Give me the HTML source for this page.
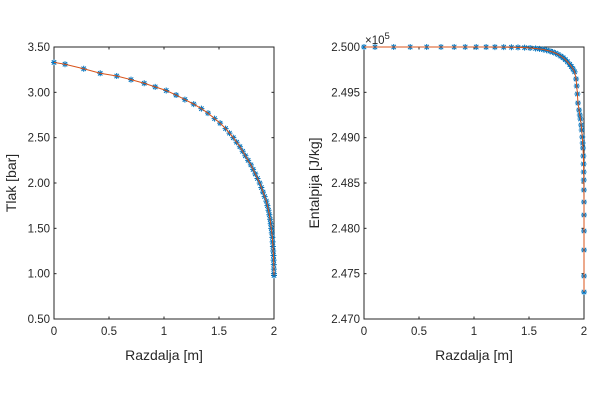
<!DOCTYPE html>
<html><head><meta charset="utf-8"><style>
body{margin:0;background:#fff;width:600px;height:400px;overflow:hidden}
text{font-family:"Liberation Sans",sans-serif;fill:#262626}
</style></head><body>
<svg id="s" width="600" height="400" xmlns="http://www.w3.org/2000/svg">
<rect width="600" height="400" fill="#fff"/>
</svg>
<script>
var s=document.getElementById('s'),out='';
var L={x0:54,x1:274,y0:47,y1:319},R={x0:364,x1:584,y0:47,y1:319};
function axes(A,yt,xlabel,ylabel,ylx){
 out+='<rect x="'+A.x0+'" y="'+A.y0+'" width="'+(A.x1-A.x0)+'" height="'+(A.y1-A.y0)+'" fill="none" stroke="#262626" stroke-width="1"/>';
 var xt=['0','0.5','1','1.5','2'];
 for(var i=0;i<5;i++){var x=A.x0+i*(A.x1-A.x0)/4;
  out+='<line x1="'+x+'" y1="'+A.y1+'" x2="'+x+'" y2="'+(A.y1-2.5)+'" stroke="#262626"/><line x1="'+x+'" y1="'+A.y0+'" x2="'+x+'" y2="'+(A.y0+2.5)+'" stroke="#262626"/>';
  out+='<text x="'+x+'" y="'+(A.y1+16)+'" font-size="11.5" text-anchor="middle">'+xt[i]+'</text>';}
 var n=yt.length;
 for(var j=0;j<n;j++){var y=A.y1-j*(A.y1-A.y0)/(n-1);
  out+='<line x1="'+A.x0+'" y1="'+y+'" x2="'+(A.x0+2.5)+'" y2="'+y+'" stroke="#262626"/><line x1="'+A.x1+'" y1="'+y+'" x2="'+(A.x1-2.5)+'" y2="'+y+'" stroke="#262626"/>';
  out+='<text x="'+(A.x0-4)+'" y="'+(y+4)+'" font-size="11.5" text-anchor="end">'+yt[j]+'</text>';}
 out+='<text x="'+(A.x0+A.x1)/2+'" y="'+(A.y1+41)+'" font-size="14" text-anchor="middle">'+xlabel+'</text>';
 var cy=(A.y0+A.y1)/2;
 out+='<text x="'+ylx+'" y="'+cy+'" font-size="14" text-anchor="middle" transform="rotate(-90 '+ylx+' '+cy+')">'+ylabel+'</text>';
}
function series(pts){
 var m='',d='';
 pts.forEach(function(p,i){var x=p[0],y=p[1];
  m+='M'+(x-3)+' '+y+'h6M'+x+' '+(y-3)+'v6M'+(x-2.2)+' '+(y-2.2)+'l4.4 4.4M'+(x-2.2)+' '+(y+2.2)+'l4.4 -4.4';
  d+=(i?'L':'M')+x.toFixed(2)+' '+y.toFixed(2);});
 out+='<path d="'+m+'" stroke="#0072BD" stroke-width="1" fill="none"/>';
 out+='<path d="'+d+'" stroke="#D95319" stroke-width="1" fill="none"/>';
}
axes(L,['0.50','1.00','1.50','2.00','2.50','3.00','3.50'],'Razdalja [m]','Tlak [bar]',16);
axes(R,['2.470','2.475','2.480','2.485','2.490','2.495','2.500'],'Razdalja [m]','Entalpija [J/kg]',319);
out+='<text x="365" y="44" font-size="11.5">×10<tspan dy="-5" font-size="9.5">5</tspan></text>';
var anch=[[3.33,0],[3.31,0.1],[3.26,0.27],[3.21,0.42],[3.18,0.57],[3.14,0.70],[3.10,0.82],[3.06,0.92],[3.02,1.02],[2.97,1.11],[2.92,1.19],[2.87,1.27],[2.82,1.34],[2.77,1.40],[2.71,1.46],[2.66,1.51],[2.60,1.56],[2.5,1.63],[2.4,1.69],[2.3,1.74],[2.2,1.79],[2.1,1.83],[2.0,1.87],[1.9,1.90],[1.8,1.93],[1.7,1.95],[1.6,1.965],[1.5,1.975],[1.4,1.985],[1.3,1.99],[1.2,1.995],[1.1,1.998],[0.98,2.0]];
function xAt(p){for(var i=0;i<anch.length-1;i++){var a=anch[i],b=anch[i+1];if(p<=a[0]&&p>=b[0]){return a[1]+(b[1]-a[1])*(a[0]-p)/(a[0]-b[0]);}}return 2;}
var lp=[];
for(var i=0;i<17;i++){lp.push([anch[i][1],anch[i][0]]);}
for(var p=2.55;p>1.0;p-=0.05){lp.push([xAt(p),p]);}
lp.push([2.0,0.98]);
series(lp.map(function(q){return [L.x0+q[0]*110,L.y1-(q[1]-0.5)/3*272];}));
var rp=[];
lp.forEach(function(q){var x=q[0];if(x<1.92){var h=2.5-0.00002*Math.exp(8*(x-1.3));rp.push([R.x0+x*110,R.y0+(2.5-h)/0.03*272]);}});
var tail=[[1.928,79],[1.934,86],[1.94,94],[1.945,103],[1.955,110],[1.962,115],[1.968,119],[1.974,125],[1.979,130],[1.984,137],[1.988,143],[1.991,148],[1.994,156],[1.996,164],[1.997,172],[1.998,180],[1.999,190],[2,202],[2,215],[2,231],[2,250],[2,276],[2,292]];
tail.forEach(function(t){rp.push([R.x0+t[0]*110,t[1]]);});
series(rp);
s.innerHTML+=out;
</script>
</body></html>
